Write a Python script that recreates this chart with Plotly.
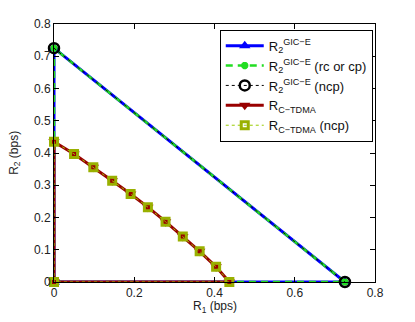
import plotly.graph_objects as go

# GIC-E region corner points
gic_r1 = [0, 0, 0.725, 0]
gic_r2 = [0, 0.725, 0, 0]
# GIC-E non-cooperative (ncp) points
gic_ncp_r1 = [0, 0.725]
gic_ncp_r2 = [0.725, 0]
# C-TDMA region
tdma_r1 = [0, 0, 0.050, 0.098, 0.145, 0.191, 0.234, 0.278, 0.321, 0.363, 0.404, 0.437, 0]
tdma_r2 = [0, 0.435, 0.397, 0.356, 0.314, 0.273, 0.232, 0.187, 0.141, 0.095, 0.047, 0, 0]

x_ticks = [0, 0.2, 0.4, 0.6, 0.8]
y_ticks = [0, 0.1, 0.2, 0.3, 0.4, 0.5, 0.6, 0.7, 0.8]

FONT = "Liberation Sans, Arial"

fig = go.Figure()
fig.add_trace(go.Scatter(x=gic_r1, y=gic_r2, mode="lines+markers", cliponaxis=False,
                         name="R<sub>2</sub><sup>GIC−E</sup>",
                         line=dict(color="#0000ff", width=3),
                         marker=dict(symbol="triangle-up", size=10, color="#0000ff")))
fig.add_trace(go.Scatter(x=gic_r1, y=gic_r2, mode="lines+markers", cliponaxis=False,
                         name="R<sub>2</sub><sup>GIC−E</sup> (rc or cp)",
                         line=dict(color="#22dd22", width=2.5, dash="7px,5px"),
                         marker=dict(symbol="asterisk-open", size=6, color="#22dd22",
                                     line=dict(color="#22dd22", width=2.5))))
fig.add_trace(go.Scatter(x=gic_ncp_r1, y=gic_ncp_r2, mode="lines+markers", cliponaxis=False,
                         name="R<sub>2</sub><sup>GIC−E</sup> (ncp)",
                         line=dict(color="#000000", width=1, dash="dot"),
                         marker=dict(symbol="circle-open", size=10, color="#000000",
                                     line=dict(color="#000000", width=2.5))))
fig.add_trace(go.Scatter(x=tdma_r1, y=tdma_r2, mode="lines+markers", cliponaxis=False,
                         name="R<sub>C−TDMA</sub>",
                         line=dict(color="#990000", width=3),
                         marker=dict(symbol="triangle-down", size=10, color="#990000")))
fig.add_trace(go.Scatter(x=tdma_r1, y=tdma_r2, mode="lines+markers", cliponaxis=False,
                         name="R<sub>C−TDMA</sub> (ncp)",
                         line=dict(color="#99cc00", width=1, dash="dot"),
                         marker=dict(symbol="square-open", size=7, color="#99b000",
                                     line=dict(color="#99b000", width=3))))

axis_common = dict(showline=True, linecolor="black", linewidth=1, mirror="ticks",
                   ticks="inside", ticklen=5, tickcolor="black", showgrid=False,
                   zeroline=False, automargin=False,
                   tickfont=dict(family=FONT, size=12, color="#222"))
fig.update_xaxes(range=[0, 0.8], tickvals=x_ticks, ticktext=[f"{v:g}" for v in x_ticks],
                 **axis_common)
fig.update_yaxes(range=[0, 0.8], tickvals=y_ticks, ticktext=[f"{v:g}" for v in y_ticks],
                 **axis_common)

fig.add_annotation(text="R<sub>1</sub> (bps)", xref="paper", yref="paper",
                   x=0.5, y=-0.095, xanchor="center", yanchor="middle", showarrow=False,
                   font=dict(family=FONT, size=12, color="#222"))
fig.add_annotation(text="R<sub>2</sub> (bps)", xref="paper", yref="paper",
                   x=-0.122, y=0.5, xanchor="center", yanchor="middle", showarrow=False,
                   textangle=-90, font=dict(family=FONT, size=12, color="#222"))

fig.update_layout(
    width=407, height=314,
    margin=dict(l=46, r=40, t=16, b=40),
    paper_bgcolor="white", plot_bgcolor="white",
    font=dict(family=FONT, size=12, color="#222"),
    legend=dict(x=0.993, y=0.978, xanchor="right", yanchor="top",
                bgcolor="white", bordercolor="black", borderwidth=1,
                itemwidth=38, tracegroupgap=0,
                font=dict(family=FONT, size=13, color="#111")),
)

fig.write_html("out.html")
